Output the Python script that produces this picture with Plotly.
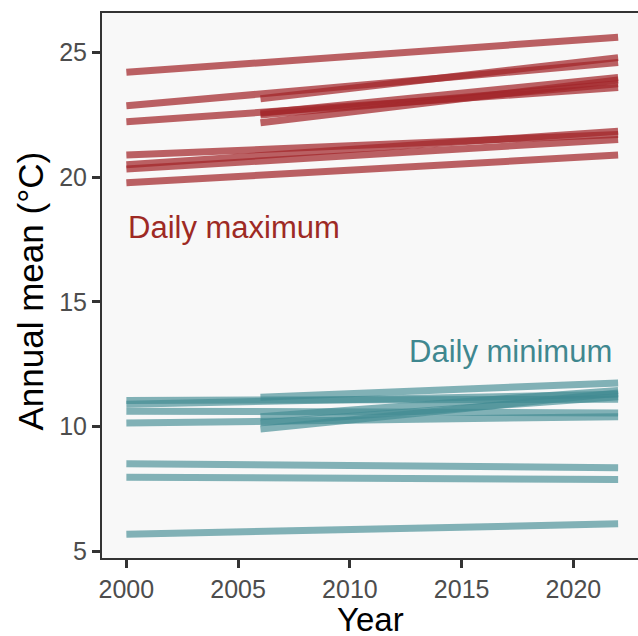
import plotly.graph_objects as go

# Linear trends of annual mean daily temperature per station (°C)
end_year = 2022

max_start_year = [2000, 2000, 2000, 2000, 2000, 2000, 2000, 2006, 2006, 2006, 2006]
max_start_val = [24.21, 22.87, 22.23, 20.89, 20.50, 20.33, 19.78, 23.15, 22.57, 22.50, 22.19]
max_end_val = [25.62, 24.60, 23.60, 21.72, 21.85, 21.52, 20.89, 24.80, 24.00, 23.75, 23.90]

min_start_year = [2000, 2000, 2000, 2000, 2000, 2000, 2000, 2006, 2006, 2006, 2006]
min_start_val = [11.05, 10.90, 10.62, 10.14, 8.51, 7.97, 5.68, 11.18, 10.40, 10.15, 9.90]
min_end_val = [11.10, 11.30, 10.55, 10.40, 8.35, 7.88, 6.10, 11.75, 11.45, 11.20, 11.35]

x_ticks = [2000, 2005, 2010, 2015, 2020]
y_ticks = [5, 10, 15, 20, 25]

MAX_LINE = "rgba(162, 37, 42, 0.72)"
MIN_LINE = "rgba(65, 138, 146, 0.65)"
MAX_TEXT = "#9e2a24"
MIN_TEXT = "#3f878f"
FONT = "Liberation Sans, Arial, Helvetica, sans-serif"

fig = go.Figure()

for y0, v0, v1 in zip(max_start_year, max_start_val, max_end_val):
    fig.add_trace(go.Scatter(x=[y0, end_year], y=[v0, v1], mode="lines",
                             line=dict(color=MAX_LINE, width=7),
                             showlegend=False, hoverinfo="skip"))

for y0, v0, v1 in zip(min_start_year, min_start_val, min_end_val):
    fig.add_trace(go.Scatter(x=[y0, end_year], y=[v0, v1], mode="lines",
                             line=dict(color=MIN_LINE, width=7),
                             showlegend=False, hoverinfo="skip"))

fig.add_annotation(x=2000, y=18, text="Daily maximum", showarrow=False,
                   xanchor="left", yanchor="middle",
                   font=dict(family=FONT, size=31, color=MAX_TEXT))
fig.add_annotation(x=2021.8, y=13, text="Daily minimum", showarrow=False,
                   xanchor="right", yanchor="middle",
                   font=dict(family=FONT, size=31, color=MIN_TEXT))

# axis titles
fig.add_annotation(xref="paper", yref="paper", x=0, y=0.5, xshift=-72, yshift=-6,
                   text="Annual mean (°C)", textangle=-90, showarrow=False,
                   xanchor="center", yanchor="middle",
                   font=dict(family=FONT, size=35, color="black"))
fig.add_annotation(xref="paper", yref="paper", x=0.5, y=0, yshift=-41,
                   text="Year", showarrow=False,
                   xanchor="center", yanchor="top",
                   font=dict(family=FONT, size=33, color="black"))

fig.update_xaxes(range=[1998.91, 2022.89], tickvals=x_ticks,
                 ticks="outside", ticklen=8, tickwidth=3, tickcolor="#333333",
                 showline=True, linewidth=2, linecolor="#333333", mirror=True,
                 showgrid=False, zeroline=False,
                 tickfont=dict(family=FONT, size=25, color="#4d4d4d"))
fig.update_yaxes(range=[4.73, 26.59], tickvals=y_ticks,
                 ticks="outside", ticklen=8, tickwidth=3, tickcolor="#333333",
                 showline=True, linewidth=2, linecolor="#333333",
                 showgrid=False, zeroline=False,
                 tickfont=dict(family=FONT, size=25, color="#4d4d4d"))

fig.update_layout(width=638, height=636,
                  margin=dict(l=102, r=0, t=13, b=78),
                  plot_bgcolor="#f8f8f8", paper_bgcolor="white")

fig.write_html("out.html")
